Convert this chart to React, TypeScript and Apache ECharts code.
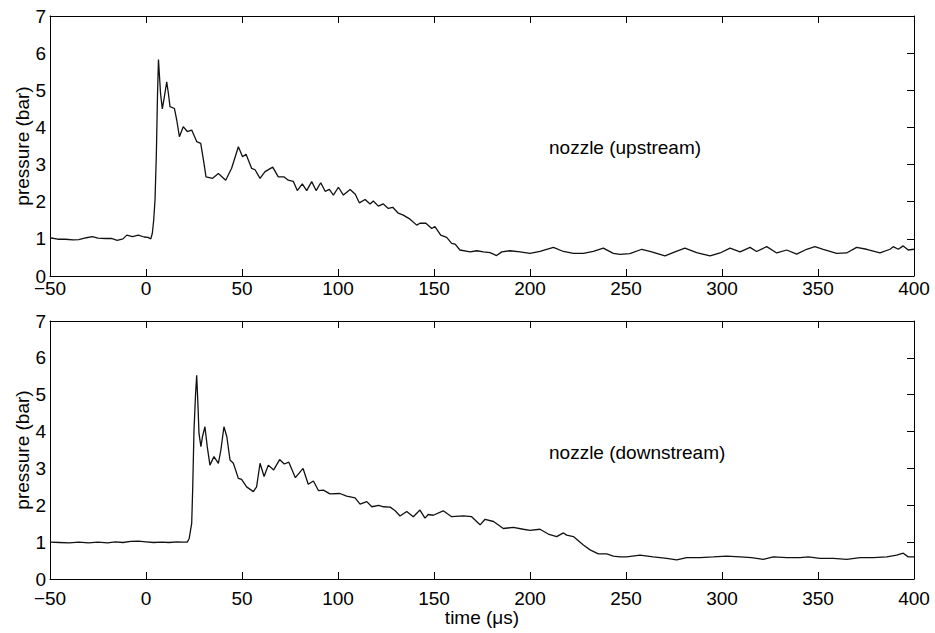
import React, { useEffect, useRef } from "react";
import * as echarts from "echarts";

// time ticks (µs) and pressure ticks (bar)
const timeMin = -50;
const timeMax = 400;
const timeStep = 50;
const presMin = 0;
const presMax = 7;
const presStep = 1;

const labelUp = "nozzle (upstream)";
const labelDown = "nozzle (downstream)";
const xName = "time (μs)";
const yName = "pressure (bar)";

// upstream trace
const upT = [
  -50, -46, -42, -38, -35, -31, -28, -25, -21, -18, -15, -12, -10, -7, -4, -1, 1, 2.5, 3.3, 4, 4.7, 5.4, 6, 6.5, 7,
  7.6, 8.5, 9.5, 10.8, 11.7, 12.5, 14.8, 16, 17.4, 19.4, 21.5, 23.8, 26.4, 28.5, 30, 31.25, 34.7, 37.7, 41.5, 44.6,
  48.1, 50.3, 52.1, 55, 56.8, 59.4, 62, 66, 68.9, 71.8, 74.1, 76.7, 78.8, 81.4, 83.7, 86.3, 88.6, 91, 93.3, 95.5,
  97.6, 100.2, 102.8, 106.3, 109, 111.1, 114.1, 116.7, 118.4, 121, 123.6, 126.2, 128.5, 131.4, 134, 137.5, 141,
  142.7, 145.8, 148.8, 150.5, 153.5, 156.6, 159.2, 161, 163.5, 168.8, 172.3, 175.7, 179.2, 182.6, 185.3, 189.6,
  194.8, 200, 205.2, 212.2, 217.4, 222.6, 227.8, 233, 238.2, 243.4, 246.9, 252, 258.2, 263.4, 270.3, 275.5, 280.7,
  286.8, 293.75, 299, 304.2, 309.4, 314.6, 318, 323.3, 328.5, 333.7, 338.9, 344.1, 348.4, 352.7, 359.7, 364.9,
  370.1, 375.3, 382.3, 387.5, 389.2, 391.8, 394.4, 397, 400,
];
const upP = [
  1.03, 0.99, 0.99, 0.97, 0.98, 1.03, 1.06, 1.02, 1.01, 1.01, 0.96, 1.0, 1.1, 1.06, 1.1, 1.05, 1.04, 1.0, 1.15, 1.5,
  2.05, 3.3, 4.9, 5.83, 5.4, 4.9, 4.5, 4.8, 5.23, 4.9, 4.56, 4.51, 4.2, 3.75, 4.02, 3.89, 3.93, 3.62, 3.57, 3.1,
  2.67, 2.63, 2.76, 2.58, 2.9, 3.48, 3.21, 3.28, 2.9, 2.86, 2.63, 2.81, 2.93, 2.67, 2.67, 2.58, 2.55, 2.3, 2.48,
  2.3, 2.54, 2.3, 2.51, 2.28, 2.33, 2.18, 2.39, 2.18, 2.33, 2.2, 1.97, 2.06, 1.94, 2.02, 1.88, 1.94, 1.82, 1.85,
  1.69, 1.64, 1.53, 1.37, 1.42, 1.42, 1.28, 1.33, 1.1, 1.04, 0.88, 0.86, 0.7, 0.65, 0.68, 0.65, 0.63, 0.55, 0.65,
  0.68, 0.65, 0.61, 0.66, 0.77, 0.66, 0.61, 0.61, 0.66, 0.75, 0.61, 0.58, 0.6, 0.72, 0.65, 0.54, 0.65, 0.75, 0.63,
  0.54, 0.62, 0.75, 0.65, 0.77, 0.66, 0.79, 0.62, 0.7, 0.59, 0.72, 0.79, 0.72, 0.61, 0.62, 0.77, 0.72, 0.62, 0.72,
  0.79, 0.72, 0.81, 0.7, 0.72,
];

// downstream trace
const downT = [
  -50, -45, -40, -35, -30, -25, -20, -16, -12, -8, -4, 0, 4, 8, 12, 16, 19, 21.5, 22.5, 23.8, 24.3, 25, 25.8, 26.4,
  27, 27.6, 28.6, 29.4, 30.7, 31.9, 33.3, 35.4, 37.7, 39, 40.6, 42.1, 43.75, 45.5, 48.1, 49.8, 52.4, 55.9, 57.6,
  59.4, 61.5, 63.7, 66.5, 69.6, 72, 74.4, 77.8, 81.8, 84.5, 87.2, 89.8, 92.4, 95.8, 101, 104.5, 108.9, 111.5, 115,
  117.6, 121.2, 123.7, 127.2, 129.8, 132.3, 135.8, 139.2, 142.7, 145.3, 147, 149.6, 154.8, 159.2, 165.3, 169.6, 174,
  176.6, 181, 186.1, 191.3, 196.5, 200, 205.2, 209.5, 213.9, 217.4, 219.1, 222.6, 227.8, 231.3, 235.6, 240, 243.4,
  246.9, 250.3, 257.3, 264.2, 271.2, 276.4, 281.6, 288.5, 295.5, 302.4, 309.4, 315.4, 321.5, 326.7, 333.7, 340.6,
  345, 351, 358, 365, 371.9, 378.8, 385.8, 391, 394.4, 397, 400,
];
const downP = [
  1.0, 0.99, 0.98, 1.0, 0.98, 1.0, 0.98, 1.01, 0.99, 1.02, 1.03, 1.01, 0.99, 1.0, 0.99, 1.01, 1.0, 1.0, 1.1, 1.51,
  2.41, 4.04, 5.0, 5.53, 4.8, 3.95, 3.59, 3.86, 4.13, 3.59, 3.09, 3.32, 3.14, 3.5, 4.13, 3.86, 3.23, 3.14, 2.73, 2.7,
  2.5, 2.37, 2.5, 3.14, 2.78, 3.09, 2.96, 3.24, 3.12, 3.17, 2.75, 3.0, 2.57, 2.66, 2.4, 2.41, 2.31, 2.32, 2.25, 2.2,
  2.03, 2.1, 1.96, 2.0, 1.96, 1.95, 1.85, 1.71, 1.83, 1.69, 1.87, 1.65, 1.75, 1.73, 1.85, 1.69, 1.71, 1.69, 1.47,
  1.62, 1.56, 1.37, 1.4, 1.35, 1.32, 1.35, 1.22, 1.15, 1.25, 1.19, 1.15, 0.92, 0.79, 0.68, 0.68, 0.62, 0.6, 0.6,
  0.65, 0.6, 0.56, 0.52, 0.58, 0.58, 0.6, 0.62, 0.6, 0.58, 0.53, 0.6, 0.58, 0.58, 0.6, 0.56, 0.56, 0.53, 0.58, 0.58,
  0.6, 0.65, 0.7, 0.6, 0.6,
];

const FONT = "'Liberation Sans', Arial, Helvetica, sans-serif";

export default function App() {
  const ref = useRef<HTMLDivElement>(null);

  useEffect(() => {
    if (!ref.current) return;
    const chart = echarts.init(ref.current, null, { renderer: "svg" });

    const axisLine = { show: true, onZero: false, lineStyle: { color: "#000", width: 1 } };
    const tickIn = { show: true, inside: true, length: 7, lineStyle: { color: "#000", width: 1 } };
    const labelStyle = { color: "#000", fontSize: 19, fontFamily: FONT };
    const fmt = (v: number) => String(v).replace("-", "\u2212");

    const xBottom = (gi: number, margin: number, withName: boolean) => ({
      type: "value",
      gridIndex: gi,
      position: "bottom",
      min: timeMin,
      max: timeMax,
      interval: timeStep,
      axisLine,
      axisTick: tickIn,
      splitLine: { show: false },
      axisLabel: { ...labelStyle, margin, formatter: fmt },
      name: withName ? xName : "",
      nameLocation: "middle",
      nameGap: 29,
      nameMoveOverlap: false,
      nameTextStyle: { ...labelStyle },
    });
    const xTop = (gi: number) => ({
      type: "value",
      gridIndex: gi,
      position: "top",
      min: timeMin,
      max: timeMax,
      interval: timeStep,
      axisLine,
      axisTick: tickIn,
      splitLine: { show: false },
      axisLabel: { show: false },
    });
    const yLeft = (gi: number) => ({
      type: "value",
      gridIndex: gi,
      position: "left",
      min: presMin,
      max: presMax,
      interval: presStep,
      axisLine,
      axisTick: { show: false },
      splitLine: { show: false },
      axisLabel: { ...labelStyle, margin: 4 },
      name: yName,
      nameLocation: "middle",
      nameGap: 18,
      nameMoveOverlap: false,
      nameRotate: 90,
      nameTextStyle: { ...labelStyle },
    });
    const yRight = (gi: number) => ({
      type: "value",
      gridIndex: gi,
      position: "right",
      min: presMin,
      max: presMax,
      interval: presStep,
      axisLine,
      axisTick: tickIn,
      splitLine: { show: false },
      axisLabel: { show: false },
    });

    const upData = upT.map((t, i) => [t, upP[i]]);
    const downData = downT.map((t, i) => [t, downP[i]]);

    chart.setOption({
      animation: false,
      backgroundColor: "#fff",
      grid: [
        { left: 50, top: 16, width: 864, height: 260 },
        { left: 50, top: 321, width: 864, height: 258 },
      ],
      xAxis: [xBottom(0, 3, false), xTop(0), xBottom(1, 10, true), xTop(1)],
      yAxis: [yLeft(0), yRight(0), yLeft(1), yRight(1)],
      series: [
        {
          type: "line",
          xAxisIndex: 0,
          yAxisIndex: 0,
          data: upData,
          showSymbol: false,
          lineStyle: { color: "#111", width: 1.3 },
        },
        {
          type: "line",
          xAxisIndex: 2,
          yAxisIndex: 2,
          data: downData,
          showSymbol: false,
          lineStyle: { color: "#111", width: 1.3 },
        },
      ],
      graphic: [
        {
          type: "text",
          x: 549,
          y: 147,
          style: { text: labelUp, fontSize: 19, fontFamily: FONT, fill: "#000", verticalAlign: "middle" },
        },
        {
          type: "text",
          x: 549,
          y: 452,
          style: { text: labelDown, fontSize: 19, fontFamily: FONT, fill: "#000", verticalAlign: "middle" },
        },
      ],
    });

    return () => chart.dispose();
  }, []);

  return (
    <div
      ref={ref}
      style={{ position: "fixed", left: 0, top: 0, width: 935, height: 633, background: "#fff" }}
    />
  );
}
